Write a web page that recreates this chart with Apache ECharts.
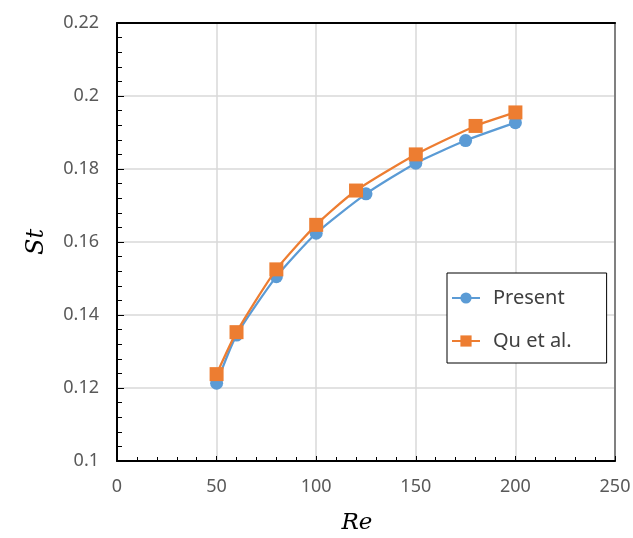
<!DOCTYPE html>
<html><head><meta charset="utf-8">
<script src="https://cdn.jsdelivr.net/npm/echarts@6/dist/echarts.min.js"></script>
<style>html,body{margin:0;padding:0;background:#fff}#c{width:633px;height:538px}</style>
</head><body><div id="c"></div>
<script>
const presentRe = [50, 60, 80, 100, 125, 150, 175, 200];
const presentSt = [0.1213, 0.1345, 0.1505, 0.1624, 0.1732, 0.1816, 0.1878, 0.1927];
const quRe = [50, 60, 80, 100, 120, 150, 180, 200];
const quSt = [0.1238, 0.1353, 0.1525, 0.1647, 0.1741, 0.1840, 0.1918, 0.1955];
const seriesNames = ['Present', 'Qu et al.'];
const xTitle = 'Re', yTitle = 'St';

const font = '"Noto Sans", sans-serif';
const chart = echarts.init(document.getElementById('c'), null, {renderer: 'canvas'});
const zip = (a, b) => a.map((v, i) => [v, b[i]]);
chart.setOption({
  animation: false,
  backgroundColor: '#fff',
  grid: {left: 117, top: 23, right: 18, bottom: 77, outerBoundsMode: 'none', containLabel: false},
  xAxis: [{
    type: 'value', min: 0, max: 250, interval: 50,
    name: xTitle, nameLocation: 'middle', nameGap: 51,
    nameTextStyle: {fontFamily: '"DejaVu Serif", serif', fontStyle: 'italic', fontSize: 23, color: '#000', padding: [0, 18, 0, 0]},
    axisLine: {show: true, onZero: false, lineStyle: {color: '#000', width: 2}},
    axisTick: {show: true, inside: true, length: 5, lineStyle: {color: '#000', width: 1}},
    minorTick: {show: true, splitNumber: 5, length: 4, lineStyle: {color: '#000', width: 1}},
    axisLabel: {fontFamily: font, fontSize: 18, color: '#595959', margin: 17},
    splitLine: {show: true, lineStyle: {color: '#d9d9d9', width: 1.5}}
  }, {
    type: 'value', position: 'top', min: 0, max: 250,
    axisLine: {show: true, onZero: false, lineStyle: {color: '#000', width: 2}},
    axisTick: {show: false}, axisLabel: {show: false}, splitLine: {show: false}
  }],
  yAxis: [{
    type: 'value', min: 0.1, max: 0.22, interval: 0.02,
    name: yTitle, nameLocation: 'middle', nameGap: 68, nameRotate: 90,
    nameTextStyle: {fontFamily: '"DejaVu Serif", serif', fontStyle: 'italic', fontSize: 24, color: '#000'},
    axisLine: {show: true, onZero: false, lineStyle: {color: '#000', width: 2}},
    axisTick: {show: true, inside: true, length: 7, lineStyle: {color: '#000', width: 1}},
    minorTick: {show: true, splitNumber: 5, length: 5, lineStyle: {color: '#000', width: 1}},
    axisLabel: {fontFamily: font, fontSize: 18, color: '#595959', margin: 18,
      formatter: v => String(+v.toFixed(2))},
    splitLine: {show: true, lineStyle: {color: '#d9d9d9', width: 1.5}}
  }, {
    type: 'value', position: 'right', min: 0.1, max: 0.22,
    axisLine: {show: true, onZero: false, lineStyle: {color: '#808080', width: 2}},
    axisTick: {show: false}, axisLabel: {show: false}, splitLine: {show: false}
  }],
  legend: {
    orient: 'vertical', left: 447, top: 273,
    padding: [15, 35, 12, 4], itemGap: 23,
    itemWidth: 28, itemHeight: 14,
    backgroundColor: '#fff', borderColor: '#000', borderWidth: 1,
    textStyle: {fontFamily: font, fontSize: 20, color: '#404040', padding: [0, 0, 0, 8]},
    data: seriesNames
  },
  series: [{
    name: seriesNames[0], type: 'line', data: zip(presentRe, presentSt),
    smooth: 0.2, symbol: 'circle', symbolSize: 13,
    itemStyle: {color: '#5B9BD5'}, lineStyle: {color: '#5B9BD5', width: 2.25}, z: 2
  }, {
    name: seriesNames[1], type: 'line', data: zip(quRe, quSt),
    smooth: 0.2, symbol: 'rect', symbolSize: 14,
    itemStyle: {color: '#ED7D31'}, lineStyle: {color: '#ED7D31', width: 2.25}, z: 3
  }]
});
</script></body></html>
